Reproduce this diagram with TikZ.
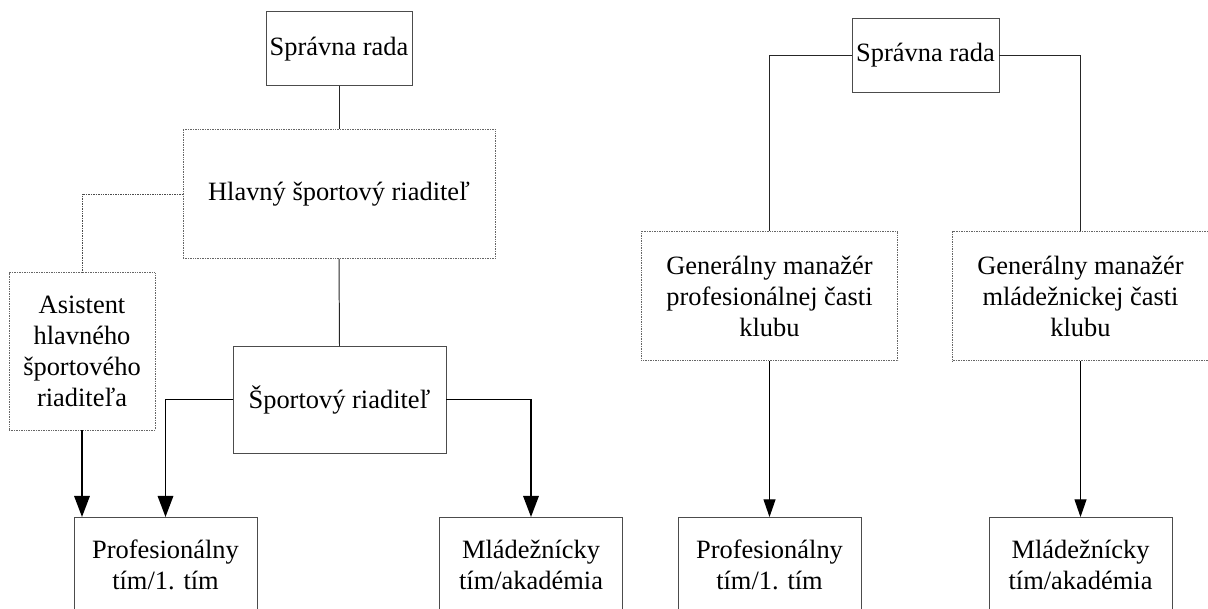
\documentclass[tikz,border=0pt]{standalone}
\usepackage{fontspec}
\setmainfont{Liberation Serif}
\usetikzlibrary{arrows.meta,calc}
\begin{document}
\def\px{0.025cm}
\begin{tikzpicture}[x=0.025cm,y=-0.025cm,
  every node/.style={inner sep=0pt, outer sep=0pt, align=center,
    font=\fontsize{18.8}{22}\selectfont},
  solidbox/.style={draw=black!70, line width=0.7pt},
  dotbox/.style={draw=black!60, line width=0.6pt, dash pattern=on 0.6pt off 0.6pt},
  link/.style={draw=black!85, line width=0.7pt},
  dotlink/.style={draw=black!70, line width=0.6pt, dash pattern=on 0.6pt off 0.6pt},
  boldarrow/.style={draw=black, line width=1.3pt, -{Triangle[width=11pt,length=15pt]}},
  thinarrow/.style={draw=black, line width=0.7pt, -{Triangle[width=8.5pt,length=12.5pt]}}]
\useasboundingbox (0,0) rectangle (1208,608);
\clip (0,0) rectangle (1208,608);

% left chart
\node[solidbox, minimum width=146*\px, minimum height=74*\px] (sr1) at (339,48.7) {Správna rada};
\node[dotbox, minimum width=312*\px, minimum height=129.4*\px] (hl) at (339,194) {Hlavný športový riaditeľ};
\node[dotbox, minimum width=146*\px, minimum height=157.3*\px] (as) at (82,351.4) {Asistent\\hlavného\\športového\\riaditeľa};
\node[solidbox, minimum width=213*\px, minimum height=107*\px] (sp) at (339.5,399.5) {Športový riaditeľ};
\node[solidbox, minimum width=183*\px, minimum height=96*\px, anchor=north] (pr1) at (165.5,517) {Profesionálny\\tím/1. tím};
\node[solidbox, minimum width=183*\px, minimum height=96*\px, anchor=north] (ml1) at (531,517) {Mládežnícky\\tím/akadémia};

\draw[link] (sr1.south) -- (hl.north);
\draw[dotlink] (hl.west) -| (as.north);
\draw[link] (hl.south) -- (sp.north);
\draw[boldarrow] (sp.west) -| (pr1.north);
\draw[boldarrow] (sp.east) -| (ml1.north);
\draw[boldarrow] (as.south) -- (as.south |- pr1.north);

% right chart
\node[solidbox, minimum width=147*\px, minimum height=74*\px] (sr2) at (925.5,55.3) {Správna rada};
\node[dotbox, minimum width=256.5*\px, minimum height=129.7*\px] (gm1) at (769.5,296) {Generálny manažér\\profesionálnej časti\\klubu};
\node[dotbox, minimum width=256*\px, minimum height=129.7*\px] (gm2) at (1080.5,296) {Generálny manažér\\mládežnickej časti\\klubu};
\node[solidbox, minimum width=183*\px, minimum height=96*\px, anchor=north] (pr2) at (769.5,517) {Profesionálny\\tím/1. tím};
\node[solidbox, minimum width=183*\px, minimum height=96*\px, anchor=north] (ml2) at (1080.5,517) {Mládežnícky\\tím/akadémia};

\draw[link] (sr2.west) -| (gm1.north);
\draw[link] (sr2.east) -| (gm2.north);
\draw[thinarrow] (gm1.south) -- (pr2.north);
\draw[thinarrow] (gm2.south) -- (ml2.north);
\end{tikzpicture}
\end{document}
